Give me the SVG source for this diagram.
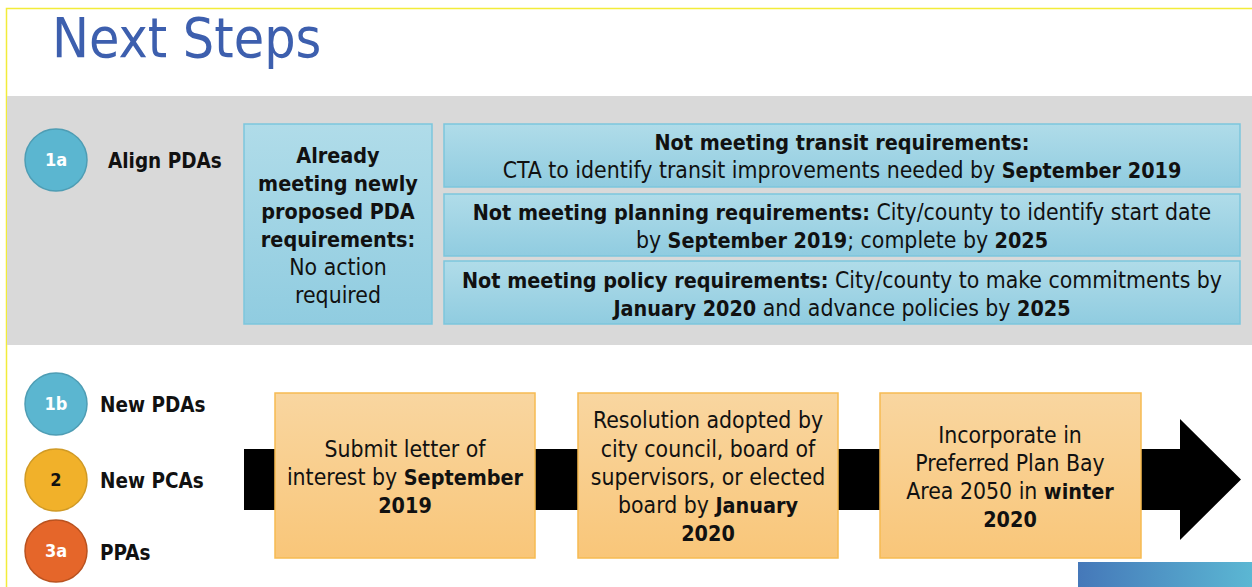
<svg xmlns="http://www.w3.org/2000/svg" width="1252" height="587" viewBox="0 0 1252 587">
<defs>
<linearGradient id="gBlue" x1="0" y1="0" x2="0" y2="1"><stop offset="0" stop-color="#b0dce9"/><stop offset="1" stop-color="#90cce0"/></linearGradient>
<linearGradient id="gOrange" x1="0" y1="0" x2="0" y2="1"><stop offset="0" stop-color="#f9d6a0"/><stop offset="1" stop-color="#f9c679"/></linearGradient>
<linearGradient id="gCorner" x1="0" y1="0" x2="1" y2="0"><stop offset="0" stop-color="#4578b9"/><stop offset="1" stop-color="#5bb7d3"/></linearGradient>
<style>
.t{font-family:"DejaVu Sans Condensed","DejaVu Sans",sans-serif;font-size:22.8px;fill:#111;text-anchor:middle}
.b{font-weight:bold;font-size:21.4px}
.lab{font-family:"DejaVu Sans Condensed","DejaVu Sans",sans-serif;font-size:20.5px;font-weight:bold;fill:#111}
.num{font-family:"DejaVu Sans Condensed","DejaVu Sans",sans-serif;font-size:18px;font-weight:bold;text-anchor:middle}
.bbox{fill:url(#gBlue);stroke:#7cc6dd;stroke-width:1.5}
.obox{fill:url(#gOrange);stroke:#f6bb52;stroke-width:1.5}
</style>
</defs>
<rect x="0" y="0" width="1252" height="587" fill="#fff"/>
<path d="M6.5 587 V8.5 H1252" fill="none" stroke="#f2ec3a" stroke-width="1.5"/>
<text x="52" y="57" font-family="DejaVu Sans Condensed,DejaVu Sans,sans-serif" font-size="55" fill="#3d5fae">Next Steps</text>
<rect x="7" y="96" width="1245" height="249" fill="#d9d9d9"/>

<g id="n1a"><circle cx="56" cy="160" r="31" fill="#5bb6d0" stroke="#4e9db4" stroke-width="1.5"/><text class="num" x="56" y="166" fill="#fff">1a</text><text class="lab" x="108" y="168">Align PDAs</text></g>

<g id="already"><rect class="bbox" x="244" y="124" width="188" height="200"/>
<text class="t" x="338"><tspan class="b" x="338" y="163">Already</tspan><tspan class="b" x="338" y="191">meeting newly</tspan><tspan class="b" x="338" y="219">proposed PDA</tspan><tspan class="b" x="338" y="247">requirements:</tspan><tspan x="338" y="275">No action</tspan><tspan x="338" y="303">required</tspan></text></g>

<g id="transit"><rect class="bbox" x="444" y="124" width="796" height="63"/>
<text class="t"><tspan class="b" x="842" y="150">Not meeting transit requirements:</tspan><tspan x="842" y="178">CTA to identify transit improvements needed by <tspan class="b">September 2019</tspan></tspan></text></g>

<g id="planning"><rect class="bbox" x="444" y="194" width="796" height="62"/>
<text class="t"><tspan x="842" y="220"><tspan class="b">Not meeting planning requirements:</tspan> City/county to identify start date</tspan><tspan x="842" y="248">by <tspan class="b">September 2019</tspan>; complete by <tspan class="b">2025</tspan></tspan></text></g>

<g id="policy"><rect class="bbox" x="444" y="261" width="796" height="63"/>
<text class="t"><tspan x="842" y="288"><tspan class="b">Not meeting policy requirements:</tspan> City/county to make commitments by</tspan><tspan x="842" y="316"><tspan class="b">January 2020</tspan> and advance policies by <tspan class="b">2025</tspan></tspan></text></g>

<g id="n1b"><circle cx="56" cy="404" r="31" fill="#5bb6d0" stroke="#4e9db4" stroke-width="1.5"/><text class="num" x="56" y="410" fill="#fff">1b</text><text class="lab" x="100" y="412">New PDAs</text></g>
<g id="n2"><circle cx="56" cy="480" r="31" fill="#f1b12a" stroke="#d09a25" stroke-width="1.5"/><text class="num" x="56" y="486" fill="#111">2</text><text class="lab" x="100" y="488">New PCAs</text></g>
<g id="n3a"><circle cx="56" cy="551" r="31" fill="#e5662a" stroke="#b9521f" stroke-width="1.5"/><text class="num" x="56" y="557" fill="#fff">3a</text><text class="lab" x="100" y="560">PPAs</text></g>

<g id="connectors"><path d="M244 449 H1180 V419 L1241 479.5 L1180 540 V510 H244 Z" fill="#000"/></g>

<g id="step1"><rect class="obox" x="275" y="393" width="260" height="165"/>
<text class="t"><tspan x="405" y="457">Submit letter of</tspan><tspan x="405" y="485">interest by <tspan class="b">September</tspan></tspan><tspan class="b" x="405" y="513">2019</tspan></text></g>

<g id="step2"><rect class="obox" x="578" y="393" width="260" height="165"/>
<text class="t"><tspan x="708" y="428">Resolution adopted by</tspan><tspan x="708" y="457">city council, board of</tspan><tspan x="708" y="485">supervisors, or elected</tspan><tspan x="708" y="513">board by <tspan class="b">January</tspan></tspan><tspan class="b" x="708" y="541">2020</tspan></text></g>

<g id="step3"><rect class="obox" x="880" y="393" width="261" height="165"/>
<text class="t"><tspan x="1010" y="443">Incorporate in</tspan><tspan x="1010" y="471">Preferred Plan Bay</tspan><tspan x="1010" y="499">Area 2050 in <tspan class="b">winter</tspan></tspan><tspan class="b" x="1010" y="527">2020</tspan></text></g>

<rect x="1078" y="562" width="174" height="25" fill="url(#gCorner)"/>
</svg>
